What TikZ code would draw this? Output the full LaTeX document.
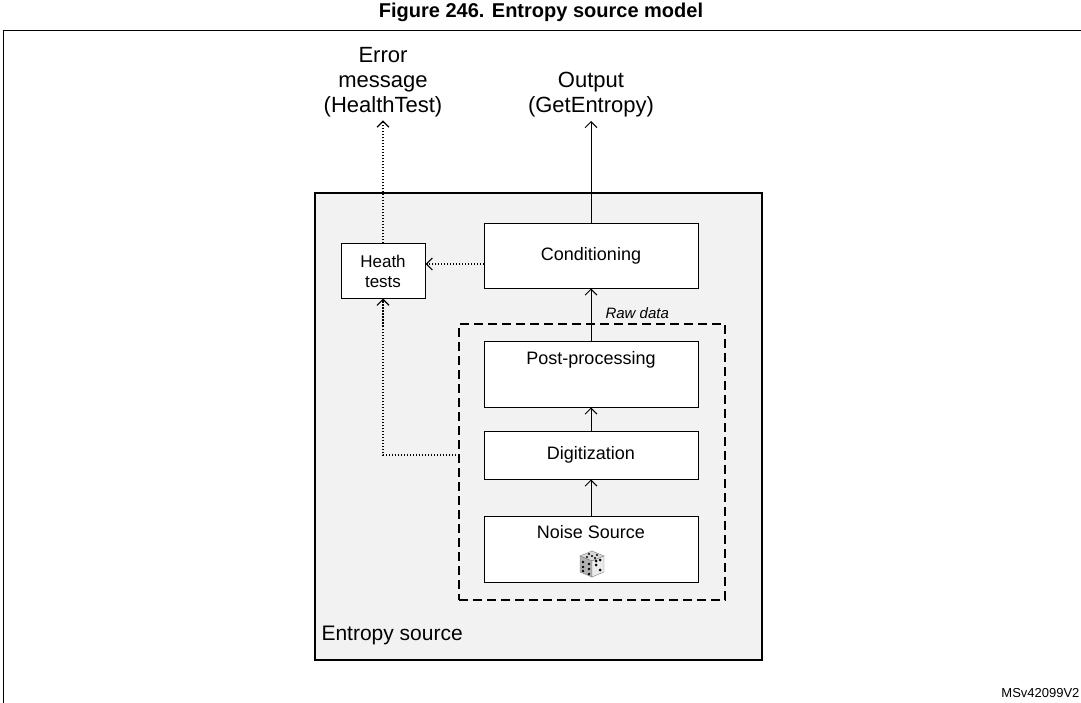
\documentclass[tikz,border=0pt]{standalone}
\usepackage{fontspec}
\setmainfont{Liberation Sans}
\usetikzlibrary{arrows.meta}
\begin{document}
\begin{tikzpicture}[x=1pt,y=-1pt,
  box/.style={draw,line width=1pt,fill=white,minimum width=214pt,font=\fontsize{18}{21}\selectfont,inner sep=0pt},
  arr/.style={-{Straight Barb[length=6pt,width=12pt]},line width=0.9pt},
  dot/.style={arr,dash pattern=on 1.5pt off 1.5pt,line width=1.2pt},
  lab/.style={font=\fontsize{22}{25}\selectfont,align=center}]
\useasboundingbox (0,0) rectangle (1081,703);
\node[font=\bfseries\fontsize{20}{24}\selectfont] (title) at (541,12) {Figure 246. Entropy source model};
\draw[line width=0.8pt] (3,703) -- (3,30) -- (1081,30);
\node[draw,line width=1.8pt,fill=black!5,minimum width=447pt,minimum height=467pt,inner sep=0pt] (es) at (538.5,426.5) {};
\node[font=\fontsize{21}{24}\selectfont,anchor=south west] (eslab) at (318,648) {Entropy source};
\node[draw,dash pattern=on 9pt off 5pt,line width=1.2pt,minimum width=266pt,minimum height=276pt,inner sep=0pt] (raw) at (592,462) {};
\node[font=\itshape\fontsize{15}{18}\selectfont,anchor=south west] (rawlab) at (602,322) {Raw data};
\node[box,minimum height=64pt] (cond) at (591,256) {Conditioning};
\node[box,minimum height=66pt,text depth=32pt] (post) at (591,374) {Post-processing};
\node[box,minimum height=48pt] (dig) at (591,455) {Digitization};
\node[box,minimum height=66pt,text depth=34pt] (noise) at (591,549) {Noise Source};
\node[box,minimum width=84pt,minimum height=54pt,align=center,font=\fontsize{17}{20}\selectfont] (heath) at (383,271) {Heath\\tests};
\node[lab] (out) at (591,95) {Output\\(GetEntropy)};
\node[lab] (err) at (383,82) {Error\\message\\(HealthTest)};
% dice
\begin{scope}[shift={(592,564)}]
\fill[black!15,draw=black!50] (-12,-8) -- (0,-13) -- (12,-8) -- (0,-3) -- cycle;
\fill[black!30,draw=black!50] (-12,-8) -- (0,-3) -- (0,13) -- (-12,8) -- cycle;
\fill[black!8,draw=black!50] (0,-3) -- (12,-8) -- (12,8) -- (0,13) -- cycle;
\foreach \p in {(-3,-10),(0,-8),(3,-6),(-5,-7),(5,-9)} \fill[black] \p circle (1.2);
\foreach \p in {(-9,-2),(-9,3),(-3,0),(-3,5),(-9,7),(-3,10)} \fill[black] \p circle (1.3);
\foreach \p in {(4,1),(8,-4),(8,6),(4,-3)} \fill[black] \p circle (1.5);
\end{scope}
\draw[arr] (noise) -- (dig);
\draw[arr] (dig) -- (post);
\draw[arr] (post) -- (cond);
\draw[arr] (cond) -- (out);
\coordinate (cw) at (484,264);
\draw[dot] (cw) -- (cw -| heath.east);
\draw[dot] (heath) -- (err);
\coordinate (tap) at (459,455);
\draw[dot] (tap) -| (heath);
\node[font=\fontsize{13}{15}\selectfont,anchor=south east] (id) at (1083,701) {MSv42099V2};
\end{tikzpicture}
\end{document}
